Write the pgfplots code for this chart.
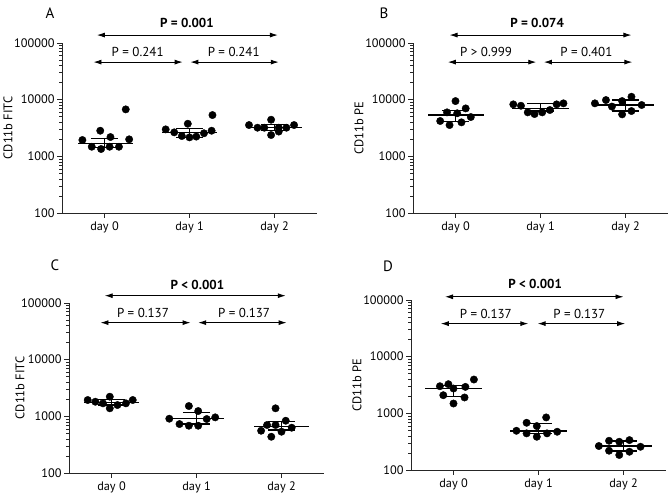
\documentclass[border=0pt]{standalone}
\usepackage{fontspec}
\setmainfont{PT Sans}
\usepackage{pgfplots}
\pgfplotsset{compat=1.18}
\usetikzlibrary{arrows.meta}

\pgfplotsset{
 dots/.style={only marks, mark=*, mark size=3.7pt, black},
 summ/.style={black, line width=1.3pt, mark=none},
}
\tikzset{
 sig/.style={line width=0.9pt, black, {Latex[length=8pt,width=5pt]}-{Latex[length=8pt,width=5pt]}},
 ptxt/.style={font=\fontsize{13}{15}\selectfont},
 letter/.style={font=\fontsize{15}{17}\selectfont},
}

\begin{document}
\begin{tikzpicture}
\useasboundingbox (0pt,0pt) rectangle (668pt,495pt);

% ---------------- A ----------------
\begin{semilogyaxis}[at={(62pt,282pt)}, anchor=south west,
  scale only axis, width=255pt, height=170pt,
  ymin=100, ymax=100000, xmin=-0.5, xmax=2.5,
  axis lines*=left, axis line style={line width=0.9pt, black!85},
  xtick={0,1,2}, xticklabels={day 0, day 1, day 2},
  ytick={100,1000,10000,100000}, yticklabels={100,1000,10000,100000},
  minor ytick={200,300,400,500,600,700,800,900,2000,3000,4000,5000,6000,7000,8000,9000,20000,30000,40000,50000,60000,70000,80000,90000},
  tick align=outside, major tick length=5pt, minor tick length=3pt,
  tick style={line width=0.9pt, black!85},
  minor tick style={line width=0.6pt, black!85},
  tick label style={font=\fontsize{12.3}{14}\selectfont},
  yticklabel style={xshift=1pt},
  label style={font=\fontsize{12.5}{14}\selectfont},
  ylabel style={at={(rel axis cs:-0.212,0.5)}, anchor=center},
  clip=false, unbounded coords=jump,
  ylabel={CD11b FITC}]
\addplot[summ] coordinates {(-0.31,1695) (0.33,1695) (0,nan) (-0.16,2075) (0.16,2075) (0,nan) (0,2075) (0,1450) (0,nan) (-0.16,1450) (0.16,1450)};
\addplot[summ] coordinates {(0.68,2610) (1.32,2610) (1,nan) (0.84,3120) (1.16,3120) (1,nan) (1,3120) (1,2130) (1,nan) (0.84,2130) (1.16,2130)};
\addplot[summ] coordinates {(1.68,3245) (2.32,3245) (2,nan) (1.84,3660) (2.16,3660) (2,nan) (2,3660) (2,2830) (2,nan) (1.84,2830) (2.16,2830)};
\addplot[dots] coordinates {(-0.26,1940) (-0.05,2830) (0.07,2190) (0.25,6740) (0.29,1995) (-0.15,1476) (-0.04,1346) (0.06,1476) (0.17,1476)};
\addplot[dots] coordinates {(0.72,2990) (0.98,3760) (1.27,5350) (1.26,2830) (0.82,2650) (0.91,2280) (1.0,2160) (1.08,2230) (1.17,2550)};
\addplot[dots] coordinates {(1.70,3565) (1.96,4425) (2.23,3565) (1.80,3200) (1.88,3200) (2.05,3200) (2.14,3200) (1.96,2375) (2.05,2735)};
\draw[sig] (axis cs:-0.09,138000) -- (axis cs:2.04,138000);
\draw[sig] (axis cs:-0.13,46000) -- (axis cs:0.92,46000);
\draw[sig] (axis cs:1.01,46000) -- (axis cs:2.05,46000);
\node[ptxt] at (axis cs:0.97,225000) {\bfseries P = 0.001};
\node[ptxt] at (axis cs:0.39,69000) {P = 0.241};
\node[ptxt] at (axis cs:1.52,69000) {P = 0.241};
\node[letter] at (rel axis cs:-0.047,1.176) {A};
\end{semilogyaxis}

% ---------------- B ----------------
\begin{semilogyaxis}[at={(413pt,282pt)}, anchor=south west,
  scale only axis, width=255pt, height=170pt,
  ymin=100, ymax=100000, xmin=-0.5, xmax=2.5,
  axis lines*=left, axis line style={line width=0.9pt, black!85},
  xtick={0,1,2}, xticklabels={day 0, day 1, day 2},
  ytick={100,1000,10000,100000}, yticklabels={100,1000,10000,100000},
  minor ytick={200,300,400,500,600,700,800,900,2000,3000,4000,5000,6000,7000,8000,9000,20000,30000,40000,50000,60000,70000,80000,90000},
  tick align=outside, major tick length=5pt, minor tick length=3pt,
  tick style={line width=0.9pt, black!85},
  minor tick style={line width=0.6pt, black!85},
  tick label style={font=\fontsize{12.3}{14}\selectfont},
  yticklabel style={xshift=1pt},
  label style={font=\fontsize{12.5}{14}\selectfont},
  ylabel style={at={(rel axis cs:-0.212,0.5)}, anchor=center},
  clip=false, unbounded coords=jump,
  ylabel={CD11b PE}]
\addplot[summ] coordinates {(-0.32,5350) (0.33,5350) (0,nan) (-0.16,6370) (0.16,6370) (0,nan) (0,6370) (0,4110) (0,nan) (-0.16,4110) (0.16,4110)};
\addplot[summ] coordinates {(0.67,7010) (1.33,7010) (1,nan) (0.84,8610) (1.16,8610) (1,nan) (1,8610) (1,6300) (1,nan) (0.84,6300) (1.16,6300)};
\addplot[summ] coordinates {(1.67,8040) (2.33,8040) (2,nan) (1.84,9840) (2.16,9840) (2,nan) (2,9840) (2,6300) (2,nan) (1.84,6300) (2.16,6300)};
\addplot[dots] coordinates {(0.0,9440) (0.12,7010) (-0.1,5970) (0.02,5750) (-0.18,4200) (-0.07,3565) (0.07,3980) (0.18,4930)};
\addplot[dots] coordinates {(0.68,8260) (0.77,7810) (0.85,5970) (0.93,5570) (1.02,5970) (1.11,6560) (1.19,8260) (1.27,8610)};
\addplot[dots] coordinates {(1.64,8610) (1.77,9840) (1.84,7550) (1.96,9440) (2.07,11250) (1.96,5500) (2.07,6300) (2.19,8040)};
\draw[sig] (axis cs:-0.07,138000) -- (axis cs:2.07,138000);
\draw[sig] (axis cs:-0.09,46000) -- (axis cs:0.95,46000);
\draw[sig] (axis cs:1.04,46000) -- (axis cs:2.08,46000);
\node[ptxt] at (axis cs:0.96,225000) {\bfseries P = 0.074};
\node[ptxt] at (axis cs:0.36,69000) {P > 0.999};
\node[ptxt] at (axis cs:1.54,69000) {P = 0.401};
\node[letter] at (rel axis cs:-0.114,1.176) {B};
\end{semilogyaxis}

% ---------------- C ----------------
\begin{semilogyaxis}[at={(69pt,22pt)}, anchor=south west,
  scale only axis, width=255pt, height=170pt,
  ymin=100, ymax=100000, xmin=-0.5, xmax=2.5,
  axis lines*=left, axis line style={line width=0.9pt, black!85},
  xtick={0,1,2}, xticklabels={day 0, day 1, day 2},
  ytick={100,1000,10000,100000}, yticklabels={100,1000,10000,100000},
  minor ytick={200,300,400,500,600,700,800,900,2000,3000,4000,5000,6000,7000,8000,9000,20000,30000,40000,50000,60000,70000,80000,90000},
  tick align=outside, major tick length=5pt, minor tick length=3pt,
  tick style={line width=0.9pt, black!85},
  minor tick style={line width=0.6pt, black!85},
  tick label style={font=\fontsize{12.3}{14}\selectfont},
  yticklabel style={xshift=1pt},
  label style={font=\fontsize{12.5}{14}\selectfont},
  ylabel style={at={(rel axis cs:-0.192,0.5)}, anchor=center},
  clip=false, unbounded coords=jump,
  ylabel={CD11b FITC}]
\addplot[summ] coordinates {(-0.32,1740) (0.32,1740) (0,nan) (-0.16,1995) (0.16,1995) (0,nan) (0,1995) (0,1583) (0,nan) (-0.16,1583) (0.16,1583)};
\addplot[summ] coordinates {(0.68,922) (1.32,922) (1,nan) (0.84,1157) (1.16,1157) (1,nan) (1,1157) (1,731) (1,nan) (0.84,731) (1.16,731)};
\addplot[summ] coordinates {(1.68,656) (2.32,656) (2,nan) (1.84,804) (2.16,804) (2,nan) (2,804) (2,573) (2,nan) (1.84,573) (2.16,573)};
\addplot[dots] coordinates {(-0.28,1940) (-0.19,1810) (-0.10,1695) (-0.02,2220) (-0.02,1385) (0.07,1583) (0.17,1695) (0.25,1940)};
\addplot[dots] coordinates {(0.68,908) (0.91,1520) (1.02,1240) (1.12,896) (1.22,959) (0.80,731) (0.91,683) (1.02,683)};
\addplot[dots] coordinates {(1.93,1385) (2.05,836) (1.83,703) (1.93,703) (2.12,630) (1.76,557) (2.0,535) (1.88,436)};
\draw[sig] (axis cs:-0.08,134600) -- (axis cs:2.05,134600);
\draw[sig] (axis cs:-0.13,45000) -- (axis cs:0.93,45000);
\draw[sig] (axis cs:1.02,45000) -- (axis cs:2.06,45000);
\node[ptxt] at (axis cs:1.01,207000) {\bfseries P < 0.001};
\node[ptxt] at (axis cs:0.37,65800) {P = 0.137};
\node[ptxt] at (axis cs:1.56,65800) {P = 0.137};
\node[letter] at (rel axis cs:-0.055,1.224) {C};
\end{semilogyaxis}

% ---------------- D ----------------
\begin{semilogyaxis}[at={(411pt,25pt)}, anchor=south west,
  scale only axis, width=255pt, height=170pt,
  ymin=100, ymax=100000, xmin=-0.5, xmax=2.5,
  axis lines*=left, axis line style={line width=0.9pt, black!85},
  xtick={0,1,2}, xticklabels={day 0, day 1, day 2},
  ytick={100,1000,10000,100000}, yticklabels={100,1000,10000,100000},
  minor ytick={200,300,400,500,600,700,800,900,2000,3000,4000,5000,6000,7000,8000,9000,20000,30000,40000,50000,60000,70000,80000,90000},
  tick align=outside, major tick length=5pt, minor tick length=3pt,
  tick style={line width=0.9pt, black!85},
  minor tick style={line width=0.6pt, black!85},
  tick label style={font=\fontsize{12.3}{14}\selectfont},
  yticklabel style={xshift=1pt},
  label style={font=\fontsize{12.5}{14}\selectfont},
  ylabel style={at={(rel axis cs:-0.212,0.5)}, anchor=center},
  clip=false, unbounded coords=jump,
  ylabel={CD11b PE}]
\addplot[summ] coordinates {(-0.33,2740) (0.33,2740) (0,nan) (-0.16,3130) (0.16,3130) (0,nan) (0,3130) (0,2010) (0,nan) (-0.16,2010) (0.16,2010)};
\addplot[summ] coordinates {(0.67,486) (1.33,486) (1,nan) (0.84,664) (1.16,664) (1,nan) (1,664) (1,443) (1,nan) (0.84,443) (1.16,443)};
\addplot[summ] coordinates {(1.67,265) (2.33,265) (2,nan) (1.84,324) (2.16,324) (2,nan) (2,324) (2,216) (2,nan) (1.84,216) (2.16,216)};
\addplot[dots] coordinates {(-0.16,3010) (-0.06,3270) (0.0,2740) (0.14,2930) (0.24,3950) (-0.12,2090) (0.13,1905) (0.0,1490)};
\addplot[dots] coordinates {(0.86,681) (1.09,847) (0.98,596) (0.74,492) (0.86,443) (0.98,386) (1.10,443) (1.22,473)};
\addplot[dots] coordinates {(1.71,265) (1.83,328) (1.95,315) (2.07,337) (2.20,257) (1.83,219) (1.95,184) (2.07,210)};
\draw[sig] (axis cs:-0.10,114000) -- (axis cs:2.0,114000);
\draw[sig] (axis cs:-0.15,38300) -- (axis cs:0.88,38300);
\draw[sig] (axis cs:0.99,38300) -- (axis cs:2.02,38300);
\node[ptxt] at (axis cs:0.96,194000) {\bfseries P < 0.001};
\node[ptxt] at (axis cs:0.38,56000) {P = 0.137};
\node[ptxt] at (axis cs:1.48,56000) {P = 0.137};
\node[letter] at (rel axis cs:-0.09,1.199) {D};
\end{semilogyaxis}
\end{tikzpicture}
\end{document}
